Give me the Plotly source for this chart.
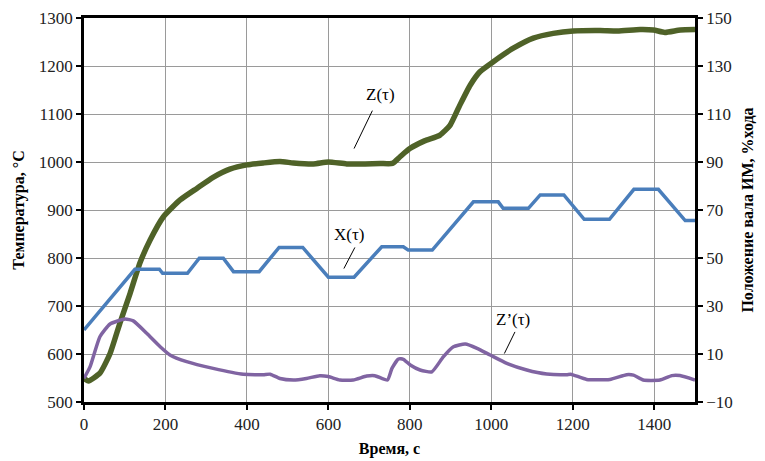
import plotly.graph_objects as go

# Time axis values (s) and series
z_t = [0, 11, 39, 64, 88, 113, 137, 162, 195, 236, 277, 317, 358, 400, 440, 481, 514, 563, 600, 645,
       690, 727, 757, 776, 800, 836, 874, 899, 923, 948, 972, 1005, 1054, 1103, 1152, 1201, 1267, 1310,
       1365, 1398, 1426, 1464, 1500]
z_v = [549, 544, 560, 601, 664, 726, 789, 837, 886, 921, 945, 968, 985, 994, 998, 1001, 998, 996, 1000, 996,
       996, 997, 997, 1011, 1028, 1044, 1056, 1077, 1119, 1160, 1188, 1209, 1237, 1258, 1268, 1273, 1274, 1273,
       1276, 1275, 1270, 1275, 1276]

x_t = [0, 125, 185, 193, 254, 283, 342, 367, 430, 479, 537, 600, 663, 731, 784, 796, 855, 956, 1017, 1029,
       1091, 1120, 1178, 1228, 1290, 1350, 1410, 1476, 1500]
x_v = [20, 45.3, 45.3, 43.6, 43.6, 49.9, 49.9, 44.3, 44.3, 54.4, 54.4, 42, 42, 54.7, 54.7, 53.3, 53.3, 73.4,
       73.4, 70.7, 70.7, 76.3, 76.3, 66.1, 66.1, 78.6, 78.6, 65.6, 65.6]

zd_t = [0, 15, 39, 64, 101, 121, 154, 187, 211, 252, 317, 391, 440, 457, 481, 514, 546, 579, 600, 628, 661,
        694, 714, 745, 756, 772, 784, 801, 825, 854, 882, 907, 936, 965, 997, 1038, 1087, 1136, 1185, 1195,
        1234, 1291, 1332, 1349, 1373, 1414, 1443, 1463, 1500]
zd_v = [549.3, 573.6, 636, 662.5, 673, 669, 643, 615, 598, 584, 570, 557.7, 557, 558, 549, 545.8, 549, 554.8,
        553, 545.8, 545.8, 554, 554.8, 545.8, 570, 589.6, 589, 577, 566.7, 563, 594, 615, 620.8, 611.8, 598,
        580.6, 566.7, 558.3, 557, 558, 547, 547, 557, 556, 545.8, 545.8, 555, 555, 545.8]

left_ticks = list(range(500, 1301, 100))
right_ticks = list(range(-10, 151, 20))
x_ticks = list(range(0, 1501, 200))

FONT = "Times New Roman, Liberation Serif, DejaVu Serif, serif"

fig = go.Figure()
fig.add_trace(go.Scatter(x=z_t, y=z_v, mode="lines", line=dict(color="#4F6228", width=5.5, shape="spline", smoothing=0.5),
                         name="Z(τ)", yaxis="y"))
fig.add_trace(go.Scatter(x=zd_t, y=zd_v, mode="lines", line=dict(color="#8064A2", width=3.5, shape="spline", smoothing=0.5),
                         name="Z'(τ)", yaxis="y"))
fig.add_trace(go.Scatter(x=x_t, y=x_v, mode="lines", line=dict(color="#4A7EBB", width=3.5),
                         name="X(τ)", yaxis="y2"))

# Labels with leader lines
labels = [
    ("Z(τ)", 728, 1140, (708, 1107), (663, 1028)),
    ("X(τ)", 651, 849, (665, 822), (638, 778)),
    ("Z’(τ)", 1054, 671, (1058, 646), (1032, 601)),
]
for txt, tx, ty, p0, p1 in labels:
    fig.add_annotation(x=tx, y=ty, xref="x", yref="y", text=txt, showarrow=False,
                       font=dict(family=FONT, size=17, color="black"))
    fig.add_shape(type="line", xref="x", yref="y", x0=p0[0], y0=p0[1], x1=p1[0], y1=p1[1],
                  line=dict(color="black", width=1))

title_font = dict(family=FONT, size=16, color="black", weight="bold")
# page body has an 8px margin, so the figure is shifted by (8, 8)
fig.update_layout(
    width=757, height=453,
    margin=dict(l=76, r=70, t=10, b=59),
    paper_bgcolor="white", plot_bgcolor="white",
    showlegend=False,
    font=dict(family=FONT, size=17, color="#222"),
    xaxis=dict(range=[0, 1500], tickvals=x_ticks, showgrid=True, gridcolor="#9a9a9a", gridwidth=1,
               showline=True, linecolor="black", linewidth=2.5, mirror=True, automargin=False,
               ticks="outside", ticklen=5, tickwidth=2, tickcolor="black", zeroline=False,
               title=dict(text="Время, с", font=title_font, standoff=10)),
    yaxis=dict(range=[500, 1300], tickvals=left_ticks, showgrid=True, gridcolor="#9a9a9a", gridwidth=1,
               showline=True, linecolor="black", linewidth=2.5, automargin=False,
               ticks="outside", ticklen=5, tickwidth=2, tickcolor="black", zeroline=False,
               title=dict(text="Температура, °С", font=title_font, standoff=11)),
    yaxis2=dict(range=[-10, 150], tickvals=right_ticks, overlaying="y", side="right", showgrid=False,
                showline=True, linecolor="black", linewidth=2.5, automargin=False,
                ticks="outside", ticklen=5, tickwidth=2, tickcolor="black", zeroline=False,
                title=dict(text="Положение вала ИМ, %хода", font=title_font, standoff=11)),
)

fig.write_html("out.html")
